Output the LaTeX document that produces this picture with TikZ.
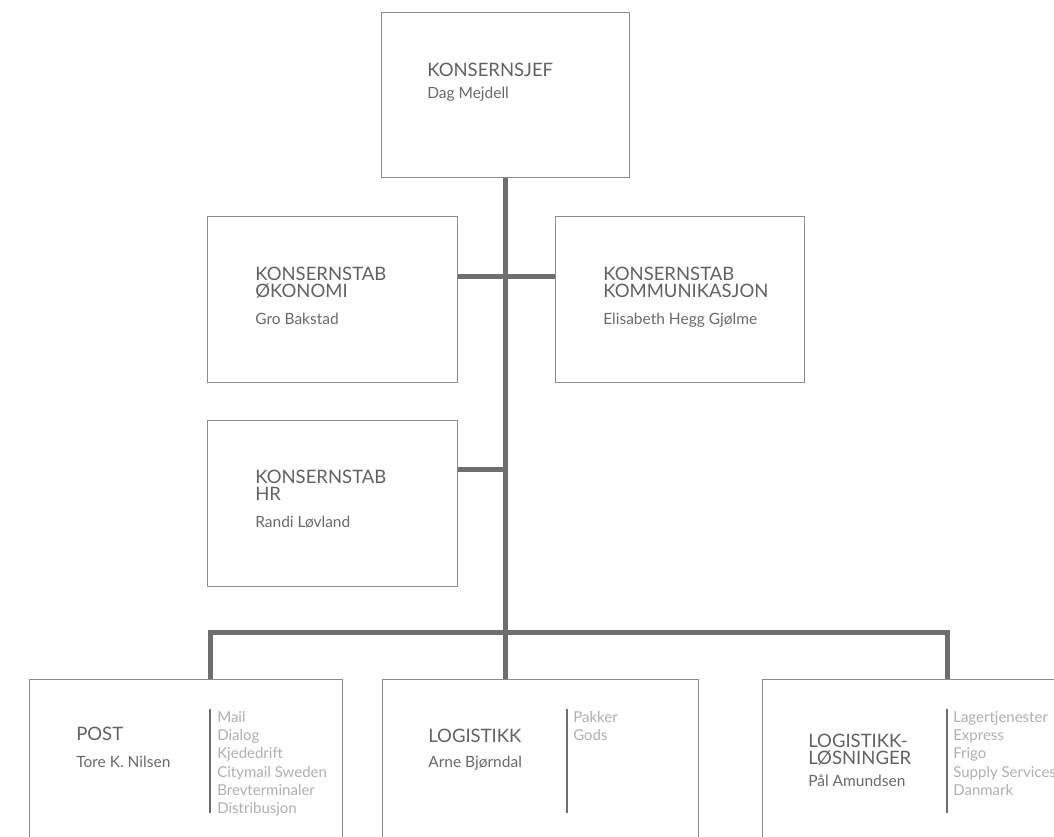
\documentclass[tikz,border=0pt]{standalone}
\usepackage{fontspec}
\setmainfont{Lato}
\usepackage{xcolor}
\usetikzlibrary{calc}
\usetikzlibrary{positioning}

\definecolor{linegray}{HTML}{6E6E6E}
\definecolor{boxgray}{HTML}{8C8C8C}
\definecolor{titlegray}{HTML}{626262}
\definecolor{namegray}{HTML}{6A6A6A}
\definecolor{itemgray}{HTML}{B0B0B0}

\begin{document}
\begin{tikzpicture}[x=1pt,y=-1pt,-,semithick]
 				 \tikzstyle{unit}=[draw=boxgray, line width=1.3pt, fill=white, anchor=north west, inner sep=0pt]
 				 \tikzstyle{unittitle}=[text=titlegray, font=\fontsize{18.5}{16.5}\selectfont, align=left, inner sep=0pt, anchor=north west]
 				 \tikzstyle{unitperson}=[text=namegray, font=\fontsize{15.5}{18}\selectfont, align=left, inner sep=0pt, anchor=north west]
 				 \tikzstyle{unititems}=[text=itemgray, font=\fontsize{15}{18.3}\selectfont, align=left, inner sep=0pt, anchor=north west]
 				 \tikzstyle{conn}=[draw=linegray, line width=5pt]
 				 \tikzstyle{listbar}=[draw=linegray, line width=1.5pt]
 				 \clip (0,0) rectangle (1054,836);
 				 \useasboundingbox (0,0) rectangle (1054,836);
 					 % boxes
 					 \node[unit, minimum width=248pt, minimum height=165pt] (sjef) at (381,12) {};
 					 \node[unit, minimum width=250pt, minimum height=166pt] (okonomi) at (207,216) {};
 					 \node[unit, minimum width=249pt, minimum height=166pt] (komm) at (555,216) {};
 					 \node[unit, minimum width=250pt, minimum height=166pt] (hr) at (207,420) {};
 					 \node[unit, minimum width=313pt, minimum height=200pt] (post) at (29,679) {};
 					 \node[unit, minimum width=316pt, minimum height=200pt] (logistikk) at (382,679) {};
 					 \node[unit, minimum width=340pt, minimum height=200pt] (losn) at (762,679) {};
 					 % connector points
 					 \coordinate (busL) at (210,632);
 					 \coordinate (busR) at (947,632);
 					 \coordinate (okR) at ($(okonomi.north east)+(0,60)$);
 					 \coordinate (koL) at ($(komm.north west)+(0,60)$);
 					 \coordinate (hrR) at ($(hr.north east)+(0,49)$);
 					 \path[conn]
 					 			(sjef.south) -- (sjef.south |- logistikk.north)
 					 			(okR) -- (koL)
 					 			(hrR) -- (hrR -| sjef.south)
 					 			(busL |- post.north) -- (busL) -- (busR) -- (busR |- losn.north);
 					 % texts
 					 \node[unittitle, below right=51pt and 46pt of sjef.north west] (sjefT) {KONSERNSJEF};
 					 \node[unitperson, below right=75pt and 46pt of sjef.north west] (sjefN) {Dag Mejdell};
 					 \node[unittitle, below right=51pt and 48pt of okonomi.north west] (okonomiT) {KONSERNSTAB\\ØKONOMI};
 					 \node[unitperson, below right=97pt and 48pt of okonomi.north west] (okonomiN) {Gro Bakstad};
 					 \node[unittitle, below right=51pt and 48pt of komm.north west] (kommT) {KONSERNSTAB\\KOMMUNIKASJON};
 					 \node[unitperson, below right=97pt and 48pt of komm.north west] (kommN) {Elisabeth Hegg Gjølme};
 					 \node[unittitle, below right=50pt and 48pt of hr.north west] (hrT) {KONSERNSTAB\\HR};
 					 \node[unitperson, below right=96pt and 48pt of hr.north west] (hrN) {Randi Løvland};
 					 \node[unittitle, below right=48pt and 47pt of post.north west] (postT) {POST};
 					 \node[unitperson, below right=77pt and 47pt of post.north west] (postN) {Tore K. Nilsen};
 					 \node[unittitle, below right=50pt and 46pt of logistikk.north west] (logistikkT) {LOGISTIKK};
 					 \node[unitperson, below right=77pt and 46pt of logistikk.north west] (logistikkN) {Arne Bjørndal};
 					 \node[unittitle, below right=55pt and 46pt of losn.north west] (losnT) {LOGISTIKK-\\LØSNINGER};
 					 \node[unitperson, below right=96pt and 46pt of losn.north west] (losnN) {Pål Amundsen};
 					 % sub units
 					 \node[unititems, below right=32pt and 188pt of post.north west] (postL) {Mail\\Dialog\\Kjededrift\\Citymail Sweden\\Brevterminaler\\Distribusjon};
 					 \node[unititems, below right=32pt and 191pt of logistikk.north west] (logistikkL) {Pakker\\Gods};
 					 \node[unititems, below right=32pt and 191pt of losn.north west] (losnL) {Lagertjenester\\Express\\Frigo\\Supply Services\\Danmark};
 					 \path[listbar]
 					 			($(post.north west)+(181,30)$) -- ++(0,104)
 					 			($(logistikk.north west)+(185,30)$) -- ++(0,104)
 					 			($(losn.north west)+(185,30)$) -- ++(0,104);
				\end{tikzpicture}
\end{document}
